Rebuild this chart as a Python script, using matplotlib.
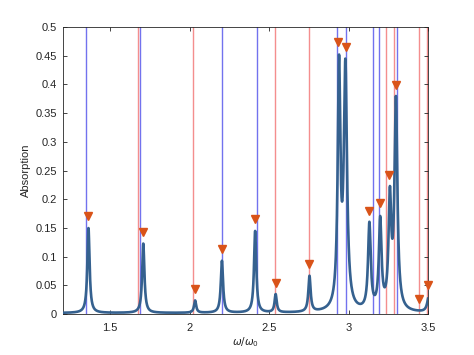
import numpy as np
import matplotlib
matplotlib.use("Agg")
import matplotlib.pyplot as plt

plt.rcParams['font.family'] = ['Liberation Sans', 'DejaVu Sans']
plt.rcParams['mathtext.fontset'] = 'dejavusans'

# Resonance peaks (centre, peak height, half-width)
peak_centers = [1.363, 1.708, 2.034, 2.203, 2.412, 2.541, 2.754, 2.940, 2.980,
                3.131, 3.199, 3.260, 3.298, 3.505]
peak_heights = [0.150, 0.123, 0.024, 0.093, 0.145, 0.035, 0.067, 0.452, 0.445,
                0.161, 0.171, 0.223, 0.380, 0.031]
peak_widths = [0.0085, 0.0085, 0.008, 0.0085, 0.0085, 0.008, 0.0085, 0.010, 0.012,
               0.010, 0.010, 0.010, 0.011, 0.012]
baseline = 0.002

# Triangle markers
marker_x = [1.363, 1.708, 2.034, 2.203, 2.412, 2.541, 2.754, 2.935, 2.983,
            3.128, 3.199, 3.257, 3.298, 3.446, 3.500]
marker_y = [0.171, 0.143, 0.044, 0.113, 0.165, 0.055, 0.087, 0.473, 0.466,
            0.180, 0.193, 0.242, 0.399, 0.027, 0.050]

# Vertical reference lines
blue_lines = [1.349, 1.686, 2.205, 2.425, 2.925, 2.984, 3.151, 3.189, 3.304]
red_lines = [1.676, 2.024, 2.534, 2.749, 3.233, 3.285, 3.442, 3.492]

x_ticks = [1.5, 2, 2.5, 3, 3.5]
y_ticks = [0, 0.05, 0.1, 0.15, 0.2, 0.25, 0.3, 0.35, 0.4, 0.45, 0.5]

c = np.array(peak_centers)
h = np.array(peak_heights) - baseline
g = np.array(peak_widths)

def shapes(x):
    x = np.atleast_1d(x)[:, None]
    return g**2 / ((x - c)**2 + g**2)

amps = np.linalg.solve(shapes(c), h)
w = np.linspace(1.2, 3.5, 4000)
absorption = shapes(w) @ amps + baseline

fig = plt.figure(figsize=(4.74, 3.55), dpi=100)
ax = fig.add_axes([0.132, 0.115, 0.771, 0.809])

for xv in blue_lines:
    ax.axvline(xv, color='#7272ee', lw=1.0, zorder=1)
for xv in red_lines:
    ax.axvline(xv, color='#f48e8e', lw=1.0, zorder=1)

ax.plot(w, absorption, color='#35618f', lw=1.9, zorder=3)
ax.plot(marker_x, marker_y, 'v', color='#d95319', ms=5.5, zorder=4, clip_on=False)

ax.set_xlim(1.2, 3.5)
ax.set_ylim(0, 0.5)
ax.set_xticks(x_ticks)
ax.set_xticklabels(['1.5', '2', '2.5', '3', '3.5'])
ax.set_yticks(y_ticks)
ax.set_yticklabels(['0', '0.05', '0.1', '0.15', '0.2', '0.25', '0.3', '0.35', '0.4', '0.45', '0.5'])
ax.tick_params(direction='in', top=True, right=True, length=3, width=0.6,
               colors='#262626', labelsize=8, labelcolor='#262626')
ax.tick_params(axis='x', pad=6)
ax.tick_params(axis='y', pad=4)
for s in ax.spines.values():
    s.set_color('#262626')
    s.set_linewidth(0.6)
ax.set_xlabel(r'$\omega/\omega_0$', fontsize=7.5, color='#262626', labelpad=2)
ax.set_ylabel('Absorption', fontsize=8, color='#262626', labelpad=3)

fig.savefig('out.png', dpi=100)
